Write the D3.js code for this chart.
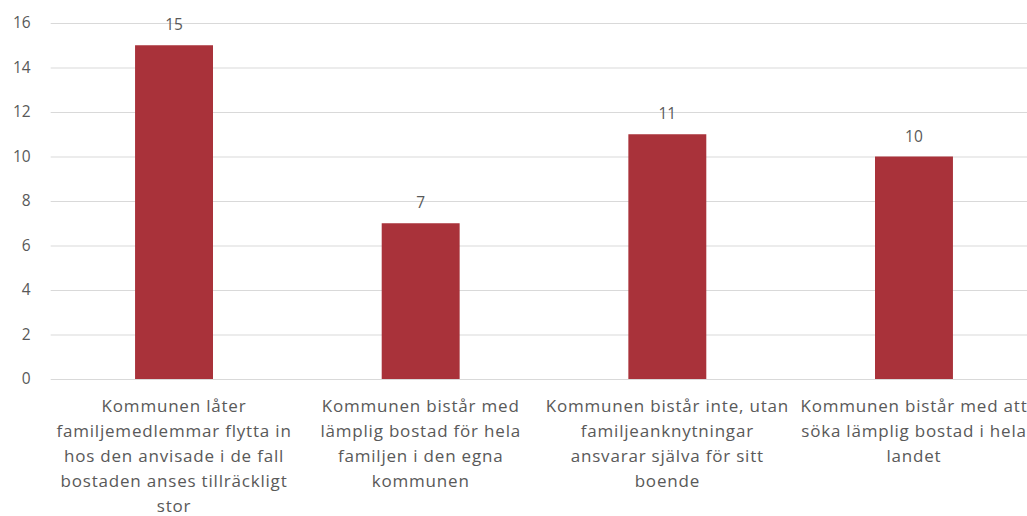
<!DOCTYPE html>
<html>
<head>
<meta charset="utf-8">
<script src="https://cdn.jsdelivr.net/npm/d3@7"></script>
<style>
  html, body { margin: 0; padding: 0; background: #fff; }
  svg { display: block; }
  text { font-family: "Open Sans", "Noto Sans", sans-serif; fill: #595959; }
</style>
</head>
<body>
<div id="chart"></div>
<script>
const categories = [
  "Kommunen låter\nfamiljemedlemmar flytta in\nhos den anvisade i de fall\nbostaden anses tillräckligt\nstor",
  "Kommunen bistår med\nlämplig bostad för hela\nfamiljen i den egna\nkommunen",
  "Kommunen bistår inte, utan\nfamiljeanknytningar\nansvarar själva för sitt\nboende",
  "Kommunen bistår med att\nsöka lämplig bostad i hela\nlandet"
];
const values = [15, 7, 11, 10];
const yTicks = [0, 2, 4, 6, 8, 10, 12, 14, 16];

const W = 1027, H = 516;
const margin = { left: 50.7, right: -10.3, top: 23, bottom: 137 };

const svg = d3.select("#chart").append("svg")
  .attr("width", W).attr("height", H);

const x = d3.scaleBand()
  .domain(categories)
  .range([margin.left, W - margin.right])
  .paddingInner(0.684).paddingOuter(0.342);

const y = d3.scaleLinear()
  .domain([0, 16])
  .range([H - margin.bottom, margin.top]);

// gridlines
const yAxis = d3.axisLeft(y).tickValues(yTicks)
  .tickSize(-(W - margin.right - margin.left)).tickPadding(20);
const gy = svg.append("g")
  .attr("transform", `translate(${margin.left},0)`)
  .call(yAxis);
gy.select(".domain").remove();
gy.selectAll(".tick line").attr("stroke", "#d9d9d9").attr("stroke-width", 1);
gy.selectAll(".tick text")
  .style("font-size", "15.5px").style("font-family", "\"Open Sans\", sans-serif").attr("fill", "#595959");

// bars
svg.append("g").selectAll("rect")
  .data(values)
  .join("rect")
  .attr("x", (d, i) => x(categories[i]))
  .attr("width", x.bandwidth())
  .attr("y", d => y(d))
  .attr("height", d => y(0) - y(d))
  .attr("fill", "#a9323a");

// value labels
svg.append("g").selectAll("text")
  .data(values)
  .join("text")
  .attr("x", (d, i) => x(categories[i]) + x.bandwidth() / 2)
  .attr("y", d => y(d) - 15)
  .attr("text-anchor", "middle")
  .style("font-size", "15.5px")
  .text(d => d);

// category labels
const xAxis = d3.axisBottom(x).tickSize(0).tickFormat("");
const gx = svg.append("g")
  .attr("transform", `translate(0,${y(0)})`)
  .call(xAxis);
gx.select(".domain").remove();
gx.selectAll(".tick").each(function(d) {
  const t = d3.select(this).append("text")
    .attr("text-anchor", "middle")
    .style("font-size", "17px")
    .style("font-family", "\"Open Sans\", sans-serif")
    .style("letter-spacing", "0.8px");
  d.split("\n").forEach((line, k) => {
    t.append("tspan").attr("x", 0).attr("y", 33 + k * 25).text(line);
  });
});
</script>
</body>
</html>
